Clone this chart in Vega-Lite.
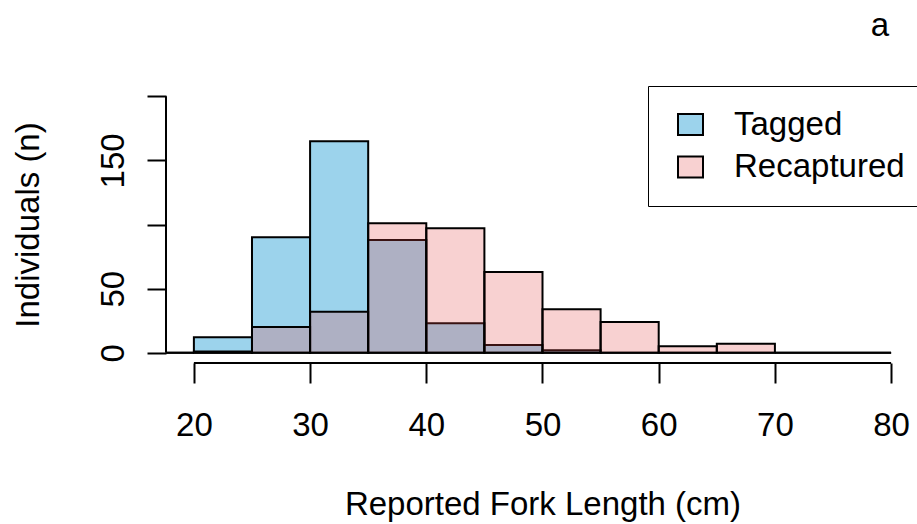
{
  "$schema": "https://vega.github.io/schema/vega-lite/v6.json",
  "width": 753,
  "height": 277,
  "autosize": {"type": "none"},
  "padding": {"left": 166, "top": 86, "right": 0, "bottom": 161},
  "background": "white",
  "config": {"view": {"stroke": null}, "font": "Liberation Sans"},
  "title": {"text": "a", "anchor": "end", "frame": "group", "fontSize": 33, "fontWeight": "normal", "color": "black", "font": "Liberation Sans", "baseline": "alphabetic", "offset": 50, "dx": -30, "dy": 33},
  "layer": [
    {
      "data": {"values": [
        {"group": "Tagged", "bin_start": 15, "bin_end": 20, "count": 0},
        {"group": "Tagged", "bin_start": 20, "bin_end": 25, "count": 12},
        {"group": "Tagged", "bin_start": 25, "bin_end": 30, "count": 90},
        {"group": "Tagged", "bin_start": 30, "bin_end": 35, "count": 165},
        {"group": "Tagged", "bin_start": 35, "bin_end": 40, "count": 88},
        {"group": "Tagged", "bin_start": 40, "bin_end": 45, "count": 23},
        {"group": "Tagged", "bin_start": 45, "bin_end": 50, "count": 6},
        {"group": "Tagged", "bin_start": 50, "bin_end": 55, "count": 2},
        {"group": "Tagged", "bin_start": 55, "bin_end": 60, "count": 0},
        {"group": "Tagged", "bin_start": 60, "bin_end": 65, "count": 0},
        {"group": "Tagged", "bin_start": 65, "bin_end": 70, "count": 0},
        {"group": "Tagged", "bin_start": 70, "bin_end": 75, "count": 0},
        {"group": "Tagged", "bin_start": 75, "bin_end": 80, "count": 0},
        {"group": "Recaptured", "bin_start": 15, "bin_end": 20, "count": 0},
        {"group": "Recaptured", "bin_start": 20, "bin_end": 25, "count": 1},
        {"group": "Recaptured", "bin_start": 25, "bin_end": 30, "count": 20},
        {"group": "Recaptured", "bin_start": 30, "bin_end": 35, "count": 32},
        {"group": "Recaptured", "bin_start": 35, "bin_end": 40, "count": 101},
        {"group": "Recaptured", "bin_start": 40, "bin_end": 45, "count": 97},
        {"group": "Recaptured", "bin_start": 45, "bin_end": 50, "count": 63},
        {"group": "Recaptured", "bin_start": 50, "bin_end": 55, "count": 34},
        {"group": "Recaptured", "bin_start": 55, "bin_end": 60, "count": 24},
        {"group": "Recaptured", "bin_start": 60, "bin_end": 65, "count": 5},
        {"group": "Recaptured", "bin_start": 65, "bin_end": 70, "count": 7},
        {"group": "Recaptured", "bin_start": 70, "bin_end": 75, "count": 0},
        {"group": "Recaptured", "bin_start": 75, "bin_end": 80, "count": 0}
      ]},
      "mark": {"type": "bar", "clip": true, "stroke": "black", "strokeWidth": 2},
      "encoding": {
        "x": {
          "field": "bin_start", "type": "quantitative",
          "scale": {"domain": [17.6, 82.4], "nice": false, "zero": false, "padding": 0},
          "axis": {
            "values": [20, 30, 40, 50, 60, 70, 80], "domain": false, "grid": false,
            "tickSize": 20, "tickWidth": 2, "tickColor": "black",
            "labelFontSize": 33, "labelFont": "Liberation Sans", "labelColor": "black",
            "labelBaseline": "alphabetic", "labelPadding": 52, "labelFlush": false, "labelOverlap": false, "labelBound": false,
            "title": "Reported Fork Length (cm)", "titleFontSize": 33, "titleFont": "Liberation Sans", "titleFontWeight": "normal", "titleColor": "black",
            "titleBaseline": "alphabetic", "titleY": 151
          }
        },
        "x2": {"field": "bin_end"},
        "y": {
          "field": "count", "type": "quantitative", "stack": null,
          "scale": {"domain": [-8, 208], "nice": false, "zero": false, "padding": 0},
          "axis": {
            "values": [0, 50, 100, 150, 200], "domain": false, "grid": false,
            "labelExpr": "datum.value == 100 || datum.value == 200 ? '' : datum.label",
            "tickSize": 19, "tickWidth": 2, "tickColor": "black",
            "labelFontSize": 33, "labelFont": "Liberation Sans", "labelColor": "black",
            "labelAngle": -90, "labelAlign": "center", "labelBaseline": "alphabetic", "labelPadding": 24, "labelFlush": false, "labelOverlap": false, "labelBound": false,
            "title": "Individuals (n)", "titleFontSize": 33, "titleFont": "Liberation Sans", "titleFontWeight": "normal", "titleColor": "black",
            "titleAngle": -90, "titleBaseline": "alphabetic", "titleX": -128
          }
        },
        "y2": {"datum": 0},
        "color": {
          "field": "group", "type": "nominal",
          "scale": {"domain": ["Tagged", "Recaptured"], "range": ["#9CD3EC", "rgba(226,72,72,0.25)"]},
          "legend": {
            "title": null, "orient": "none", "legendX": 482, "legendY": 0,
            "symbolType": "M-1,-0.84L1,-0.84L1,0.84L-1,0.84Z", "symbolSize": 625,
            "symbolStrokeColor": "black", "symbolStrokeWidth": 2,
            "labelFontSize": 33, "labelFont": "Liberation Sans", "labelColor": "black", "labelLimit": 0,
            "labelOffset": 27, "symbolOffset": 4, "padding": 22, "rowPadding": 8.5,
            "strokeColor": "black", "fillColor": "white"
          }
        }
      }
    },
    {
      "data": {"values": [{"axis": "x"}]},
      "mark": {"type": "rule", "stroke": "black", "strokeWidth": 2},
      "encoding": {"x": {"datum": 20}, "x2": {"datum": 80}, "y": {"datum": -8}}
    },
    {
      "data": {"values": [{"axis": "y"}]},
      "mark": {"type": "rule", "stroke": "black", "strokeWidth": 2},
      "encoding": {"x": {"datum": 17.6}, "y": {"datum": 0}, "y2": {"datum": 200}}
    }
  ]
}
